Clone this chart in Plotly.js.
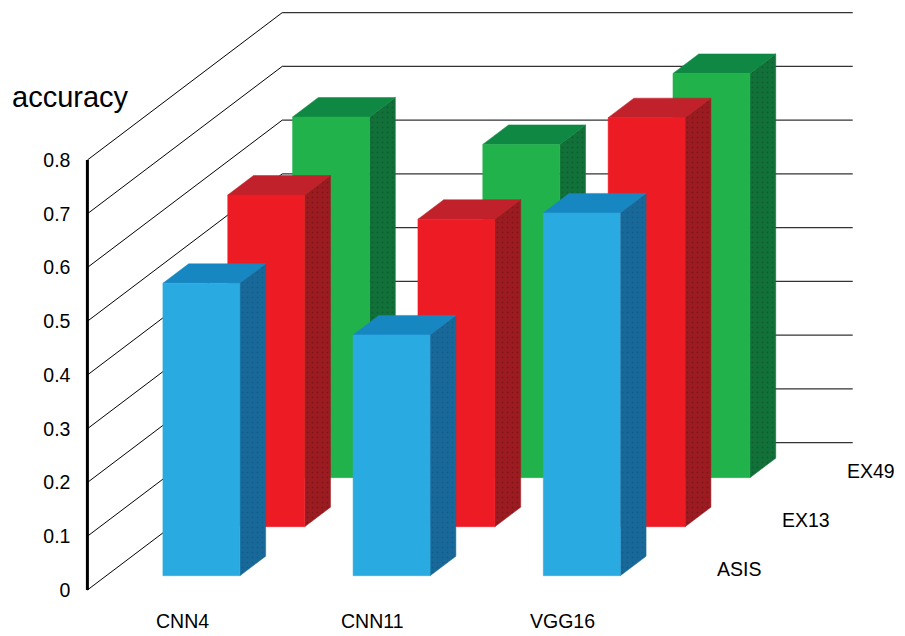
<!DOCTYPE html>
<html>
<head>
<meta charset="utf-8">
<script src="https://cdn.plot.ly/plotly-3.0.1.min.js"></script>
<style>html,body{margin:0;padding:0;background:#fff;}#chart{width:905px;height:636px;}</style>
</head>
<body>
<div id="chart"></div>
<script>
// ---- data ----
const categories = ['CNN4', 'CNN11', 'VGG16'];
const seriesNames = ['ASIS', 'EX13', 'EX49'];
const asis = [0.544, 0.448, 0.675];
const ex13 = [0.617, 0.572, 0.761];
const ex49 = [0.671, 0.620, 0.752];
const tickVals = [0, 0.1, 0.2, 0.3, 0.4, 0.5, 0.6, 0.7, 0.8];
const tickText = ['0', '0.1', '0.2', '0.3', '0.4', '0.5', '0.6', '0.7', '0.8'];
const yTitle = 'accuracy';

// ---- styles / geometry ----
const FONT = 'Liberation Sans, Arial, Helvetica, sans-serif';
const colors = [
  {front: '#29ABE2', top: '#1787C2', side: '#18699A', dot: '#0E4F78'},
  {front: '#ED1C24', top: '#C0212A', side: '#9C1B21', dot: '#5E0F12'},
  {front: '#22B24C', top: '#0E8842', side: '#117139', dot: '#0A4A25'}
];
const DX = 1.0237, DY = 0.274;          // oblique depth projection (full depth)
const rowFront = [0.097, 0.430, 0.763]; // depth of each row's front face
const thick = 0.1324;                   // bar depth
const halfW = 0.2024;                   // half bar width
const floorL = -0.5, floorR = 2.5;
const values = [asis, ex13, ex49];

function P(u, v, d) { return [u + d * DX, v + d * DY]; }
function poly(pts, color, dot) {
  const xs = pts.map(p => p[0]), ys = pts.map(p => p[1]);
  xs.push(xs[0]); ys.push(ys[0]);
  const t = {x: xs, y: ys, type: 'scatter', mode: 'lines', fill: 'toself',
    fillcolor: color, line: {color: color, width: 0.5}, hoverinfo: 'skip', showlegend: false};
  if (dot) t.fillpattern = {shape: '.', size: 5, solidity: 0.12, fgcolor: dot, bgcolor: color, fillmode: 'overlay'};
  return t;
}

const traces = [];
// walls
const lx = [], ly = [], bx = [], by = [];
tickVals.forEach(v => {
  const a = P(floorL, v, 0), b = P(floorL, v, 1), c = P(floorR, v, 1);
  lx.push(a[0], b[0], null); ly.push(a[1], b[1], null);
  bx.push(b[0], c[0], null); by.push(b[1], c[1], null);
});
traces.push({x: lx, y: ly, type: 'scatter', mode: 'lines', line: {color: '#000', width: 1}, hoverinfo: 'skip', showlegend: false});
traces.push({x: bx, y: by, type: 'scatter', mode: 'lines', line: {color: '#333', width: 1.2}, hoverinfo: 'skip', showlegend: false});

// bars, back row first
for (let r = 2; r >= 0; r--) {
  const d0 = rowFront[r], d1 = d0 + thick;
  values[r].forEach((v, i) => {
    const x0 = i - halfW, x1 = i + halfW;
    traces.push(poly([P(x1, 0, d0), P(x1, 0, d1), P(x1, v, d1), P(x1, v, d0)], colors[r].side, colors[r].dot));
    traces.push(poly([P(x0, v, d0), P(x1, v, d0), P(x1, v, d1), P(x0, v, d1)], colors[r].top));
    traces.push(poly([P(x0, 0, d0), P(x1, 0, d0), P(x1, v, d0), P(x0, v, d0)], colors[r].front));
  });
}
// front vertical axis line
traces.push({x: [floorL, floorL], y: [0, tickVals[tickVals.length - 1]], type: 'scatter', mode: 'lines',
  line: {color: '#000', width: 3}, hoverinfo: 'skip', showlegend: false});

const annotations = [];
categories.forEach((c, i) => annotations.push({x: i, y: -0.0577, xref: 'x', yref: 'y', text: c,
  showarrow: false, xanchor: 'center', yanchor: 'middle', font: {family: FONT, size: 19.5, color: '#000'}}));
seriesNames.forEach((s, r) => {
  const dc = rowFront[r] + thick / 2;
  const p = P(floorR, 0, dc);
  annotations.push({x: p[0] + 0.133, y: p[1] - 0.005, xref: 'x', yref: 'y', text: s, showarrow: false,
    xanchor: 'left', yanchor: 'middle', font: {family: FONT, size: 19.5, color: '#000'}});
});
annotations.push({x: 10 / 905, y: 1 - 97 / 636, xref: 'paper', yref: 'paper', text: yTitle, showarrow: false,
  xanchor: 'left', yanchor: 'middle', font: {family: FONT, size: 29, color: '#000'}});

const layout = {
  width: 905, height: 636,
  margin: {l: 0, r: 0, t: 0, b: 0},
  paper_bgcolor: '#fff', plot_bgcolor: '#fff',
  showlegend: false,
  xaxis: {range: [-0.9595, 3.7986], visible: false, fixedrange: true},
  yaxis: {range: [-0.08558, 1.09767], anchor: 'free', position: 87.4 / 905, automargin: false,
    tickvals: tickVals, ticktext: tickText, ticks: '', ticklabelstandoff: 17,
    showgrid: false, zeroline: false, showline: false,
    tickfont: {family: FONT, size: 19.5, color: '#000'}, fixedrange: true},
  annotations: annotations
};
Plotly.newPlot('chart', traces, layout, {displayModeBar: false, staticPlot: true});
</script>
</body>
</html>
